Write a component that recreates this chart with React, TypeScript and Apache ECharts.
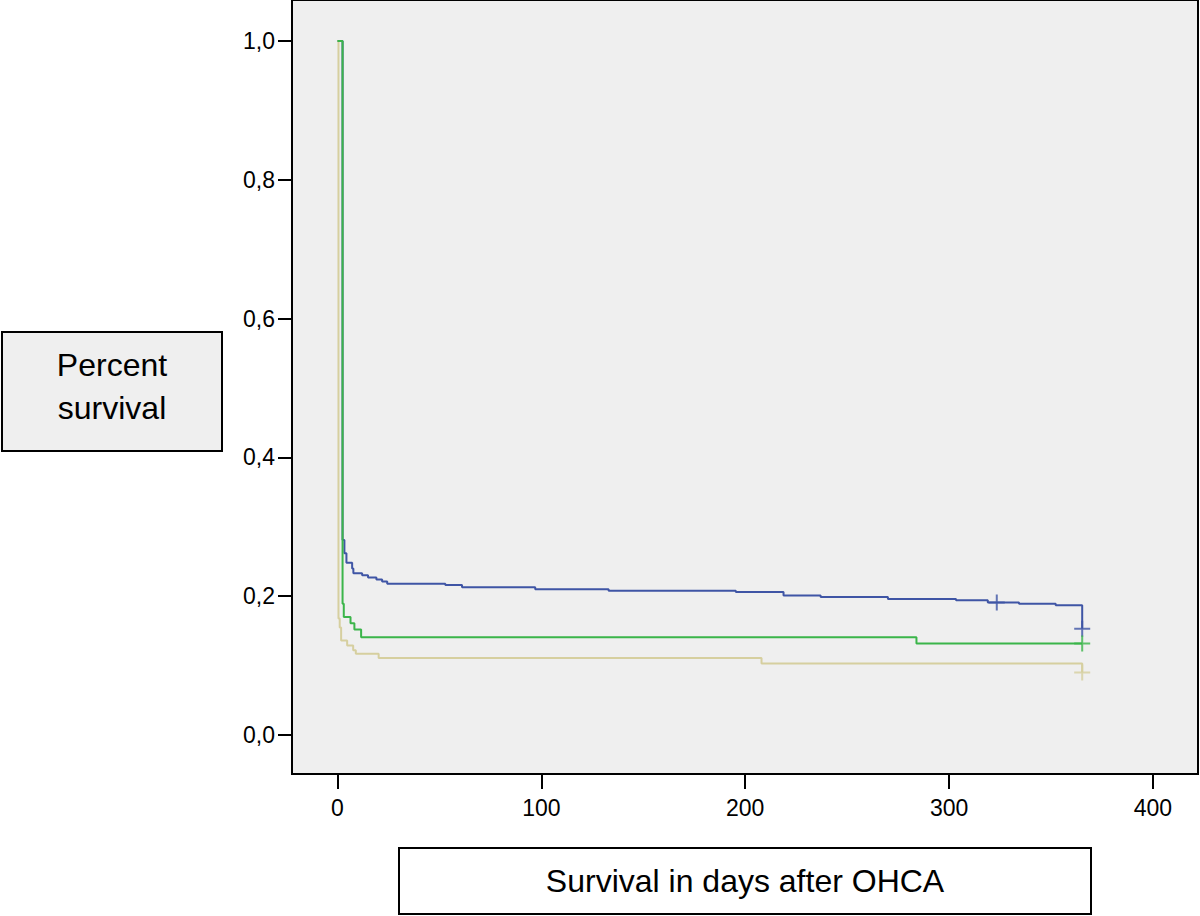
import React, { useEffect, useRef } from "react";
import * as echarts from "echarts";

const xTicks = [0, 100, 200, 300, 400];
const yTicks = [0, 0.2, 0.4, 0.6, 0.8, 1.0];

const blueCurve: [number, number][] = [
  [0, 1], [2.5, 0.281], [3.4, 0.262], [4.4, 0.248], [7.2, 0.24], [7.8, 0.233],
  [12.1, 0.23], [15, 0.227], [19.1, 0.224], [21.9, 0.221], [24.4, 0.218],
  [52.9, 0.216], [61.1, 0.213], [97, 0.21], [133, 0.208], [195.4, 0.206],
  [218.8, 0.201], [237, 0.199], [270, 0.196], [303.4, 0.194], [319, 0.191],
  [334.3, 0.189], [352.3, 0.187], [365.3, 0.153],
];
const greenCurve: [number, number][] = [
  [0, 1], [2.5, 0.189], [3.1, 0.17], [6.4, 0.161], [8.3, 0.152], [11.6, 0.141],
  [284, 0.132], [365.3, 0.132],
];
const tanCurve: [number, number][] = [
  [0, 1], [0.5, 0.168], [1.1, 0.155], [1.8, 0.136], [4.75, 0.129], [7.7, 0.122],
  [9, 0.117], [20.2, 0.111], [208, 0.103], [365.3, 0.09],
];

const blueCensored: [number, number][] = [[323.4, 0.191], [365.3, 0.153]];
const greenCensored: [number, number][] = [[365.3, 0.132]];
const tanCensored: [number, number][] = [[365.3, 0.09]];

const BLUE = "#3f55a5";
const GREEN = "#3bb54a";
const TAN = "#d6cf9f";
const FONT = "'Liberation Sans', Arial, Helvetica, sans-serif";
const PLUS = "path://M7,0h2v7h7v2h-7v7h-2v-7h-7v-2h7z";

export default function App() {
  const ref = useRef<HTMLDivElement>(null);
  useEffect(() => {
    if (!ref.current) return;
    const chart = echarts.init(ref.current, null, { renderer: "svg" });
    const line = (data: [number, number][], color: string, z: number) => ({
      type: "line",
      data,
      step: "end",
      showSymbol: false,
      symbol: "none",
      lineStyle: { color, width: 2 },
      z,
    });
    const cens = (data: [number, number][], color: string) => ({
      type: "scatter",
      data,
      symbol: PLUS,
      symbolSize: 16,
      itemStyle: { color },
      z: 5,
    });
    chart.setOption({
      animation: false,
      grid: {
        left: 292,
        right: 2,
        top: 0,
        bottom: 142,
        show: true,
        backgroundColor: "#efefef",
        borderColor: "#000",
        borderWidth: 2,
      },
      xAxis: {
        type: "value",
        position: "bottom",
        min: -22.3,
        max: 422.1,
        axisLine: { show: false, onZero: false },
        splitLine: { show: false },
        axisTick: {
          show: true,
          customValues: xTicks,
          length: 15,
          inside: false,
          lineStyle: { color: "#000", width: 2 },
        },
        axisLabel: {
          customValues: xTicks,
          fontFamily: FONT,
          fontSize: 23,
          color: "#000",
          margin: 22,
        },
      },
      yAxis: {
        type: "value",
        position: "left",
        min: -0.0562,
        max: 1.059,
        axisLine: { show: false, onZero: false },
        splitLine: { show: false },
        axisTick: {
          show: true,
          customValues: yTicks,
          length: 14,
          inside: false,
          lineStyle: { color: "#000", width: 2 },
        },
        axisLabel: {
          customValues: yTicks,
          fontFamily: FONT,
          fontSize: 23,
          color: "#000",
          margin: 17,
          formatter: (v: number) => v.toFixed(1).replace(".", ","),
        },
      },
      series: [
        line(blueCurve, BLUE, 2),
        line(tanCurve, TAN, 3),
        line(greenCurve, GREEN, 4),
        cens(blueCensored, BLUE),
        cens(greenCensored, GREEN),
        cens(tanCensored, TAN),
      ],
      graphic: [
        {
          type: "rect",
          shape: { x: 2, y: 332, width: 220, height: 119 },
          style: { fill: "#efefef", stroke: "#000", lineWidth: 2 },
        },
        {
          type: "text",
          x: 112,
          y: 365,
          style: {
            text: "Percent",
            fontFamily: FONT,
            fontSize: 32,
            fill: "#000",
            align: "center",
            verticalAlign: "middle",
          },
        },
        {
          type: "text",
          x: 112,
          y: 408,
          style: {
            text: "survival",
            fontFamily: FONT,
            fontSize: 32,
            fill: "#000",
            align: "center",
            verticalAlign: "middle",
          },
        },
        {
          type: "rect",
          shape: { x: 399, y: 848, width: 692, height: 66 },
          style: { fill: "#ffffff", stroke: "#000", lineWidth: 2 },
        },
        {
          type: "text",
          x: 745,
          y: 881,
          style: {
            text: "Survival in days after OHCA",
            fontFamily: FONT,
            fontSize: 32,
            fill: "#000",
            align: "center",
            verticalAlign: "middle",
          },
        },
      ],
    });
    return () => chart.dispose();
  }, []);
  return (
    <div
      ref={ref}
      style={{ position: "fixed", left: 0, top: 0, width: 1200, height: 916, background: "#fff" }}
    />
  );
}
